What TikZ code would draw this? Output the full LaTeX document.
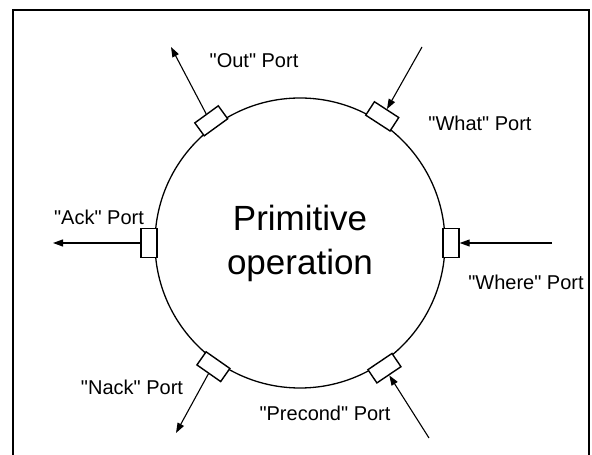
\documentclass[tikz,border=0pt]{standalone}
\usepackage{fontspec}
\setmainfont{Liberation Sans}[Ligatures=TeXOff]
\usetikzlibrary{arrows.meta, positioning, calc}

\begin{document}
\begin{tikzpicture}[
    x=1pt, y=1pt,
    >= {Triangle[length=10pt, width=7pt]},
    portbox/.style={draw, fill=white, line width=1.4pt, minimum width=16pt, minimum height=29pt, inner sep=0pt},
    portlabel/.style={font=\fontsize{20}{24}\selectfont, inner sep=0pt},
    flow/.style={->, line width=1.1pt},
    ]
    \useasboundingbox (0,0) rectangle (592,455);

    % ==========================================
    % Frame
    % ==========================================
    \draw[line width=2.5pt] (13,0) -- (13,445) -- (589,445) -- (589,0);

    % ==========================================
    % Primitive operation
    % ==========================================
    \node[circle, draw, line width=1.3pt, minimum size=290pt, inner sep=0pt,
          align=center, font=\fontsize{35}{44}\selectfont] (op) at (300,212) {Primitive\\operation};

    % ==========================================
    % Ports on the circle
    % ==========================================
    \foreach \name/\ang in {out/126, what/57, ack/180, where/0, nack/-125, precond/-56}
    {
        \node[portbox, rotate=\ang] (port-\name) at ($(op.center)+(\ang:151)$) {};
    }

    % Port labels
    \node[portlabel] (lbl-out) at (254,394) {"Out" Port};
    \node[portlabel] (lbl-what) at (480,332) {"What" Port};
    \node[portlabel] (lbl-ack) at (99,238) {"Ack" Port};
    \node[portlabel] (lbl-where) at (526,173) {"Where" Port};
    \node[portlabel] (lbl-nack) at (132,68) {"Nack" Port};
    \node[portlabel] (lbl-precond) at (325,42) {"Precond" Port};

    % ==========================================
    % Arrows in and out
    % ==========================================
    \coordinate (out-tip) at (171,408);
    \coordinate (what-src) at (422,408);
    \coordinate (ack-tip) at (53,212);
    \coordinate (where-src) at (552,212);
    \coordinate (nack-tip) at (176,22);
    \coordinate (precond-src) at (429,17);

    \draw[flow] (port-out.east) -- (out-tip);
    \draw[flow] (what-src) -- (port-what.east);
    \draw[flow] (port-ack.east) -- (ack-tip);
    \draw[flow] (where-src) -- (port-where.east);
    \draw[flow] (port-nack.east) -- (nack-tip);
    \draw[flow] (precond-src) -- (port-precond.east);

\end{tikzpicture}
\end{document}
